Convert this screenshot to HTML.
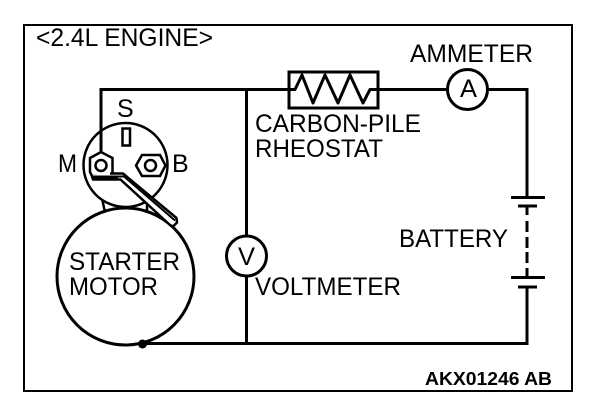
<!DOCTYPE html>
<html>
<head>
<meta charset="utf-8">
<style>
html,body{margin:0;padding:0;background:#fff;width:608px;height:404px;overflow:hidden}
svg{display:block}
text{font-family:"Liberation Sans",sans-serif;fill:#000;font-size:25px}
</style>
</head>
<body>
<svg width="608" height="404" viewBox="0 0 608 404" xmlns="http://www.w3.org/2000/svg">
<rect x="24" y="25" width="548" height="366" fill="none" stroke="#000" stroke-width="2"/>
<g fill="none" stroke="#000" stroke-width="3">
<path d="M101 152V89.500H289M378 89.500H447M488 89.500H527V197M527 287V343.500H142M246.500 89.500V236M246.500 276V343.500"/>
<rect x="289" y="72" width="89" height="36" stroke-width="3"/>
<path d="M289 89.500H295L302 75 313 103 325 75 338 103 350 75 363 103 370 89.500H378" stroke-linejoin="round"/>
<circle cx="467.500" cy="89.500" r="20"/>
<circle cx="246.500" cy="256" r="20"/>
<path d="M511 197.500H545M518 206H537M527 206V215M527 221V232M527 237V248M527 252V263M527 268V277M511 277.500H545M518 287H537"/>
<circle cx="125.500" cy="165" r="42" stroke-width="2.500"/>
<circle cx="125.500" cy="276.500" r="68.500"/>
<path d="M102.500 201L105 212M147 201V213" stroke-width="2.500"/>
<rect x="122.500" y="128.500" width="7.500" height="17" stroke-width="2.500"/>
</g>
<g stroke="#000" fill="#fff">
<path d="M90 158L101 152 112.500 158V172L113 176H92L90 172Z" stroke-width="2.500"/>
<circle cx="101" cy="165.500" r="5.500" stroke-width="2.500"/>
<path d="M136 165.500L142 155H160L165.500 165.500 160 176H142Z" stroke-width="2.500"/>
<circle cx="150.500" cy="165.500" r="5.500" stroke-width="2.500"/>
<path d="M91.500 175L93 179.500H120.500L170 225 173 226.500 177 222.500 176.500 218 123 173.500H110" stroke-width="2.500" stroke-linejoin="round"/>
<path d="M92 176.500H124L175 220.500" fill="none" stroke-width="2"/>
<path d="M93 177.500H118" fill="none" stroke-width="4"/>
</g>
<circle cx="142.500" cy="344" r="4.500" fill="#000"/>
<text x="36" y="46" textLength="177" lengthAdjust="spacingAndGlyphs">&lt;2.4L ENGINE&gt;</text>
<text x="410" y="62" textLength="123" lengthAdjust="spacingAndGlyphs">AMMETER</text>
<text x="460" y="97" textLength="17" lengthAdjust="spacingAndGlyphs">A</text>
<text x="238" y="265" textLength="17" lengthAdjust="spacingAndGlyphs">V</text>
<text x="255" y="132" textLength="166" lengthAdjust="spacingAndGlyphs">CARBON-PILE</text>
<text x="255" y="157" textLength="128" lengthAdjust="spacingAndGlyphs">RHEOSTAT</text>
<text x="117" y="117">S</text>
<text x="58" y="172" textLength="19" lengthAdjust="spacingAndGlyphs">M</text>
<text x="172" y="172">B</text>
<text x="69" y="270" textLength="111" lengthAdjust="spacingAndGlyphs">STARTER</text>
<text x="69" y="295" textLength="89" lengthAdjust="spacingAndGlyphs">MOTOR</text>
<text x="399" y="247" textLength="109" lengthAdjust="spacingAndGlyphs">BATTERY</text>
<text x="255" y="295" textLength="146" lengthAdjust="spacingAndGlyphs">VOLTMETER</text>
<text x="425" y="385" textLength="127" lengthAdjust="spacingAndGlyphs" style="font-size:18px;font-weight:bold">AKX01246 AB</text>
</svg>
</body>
</html>
